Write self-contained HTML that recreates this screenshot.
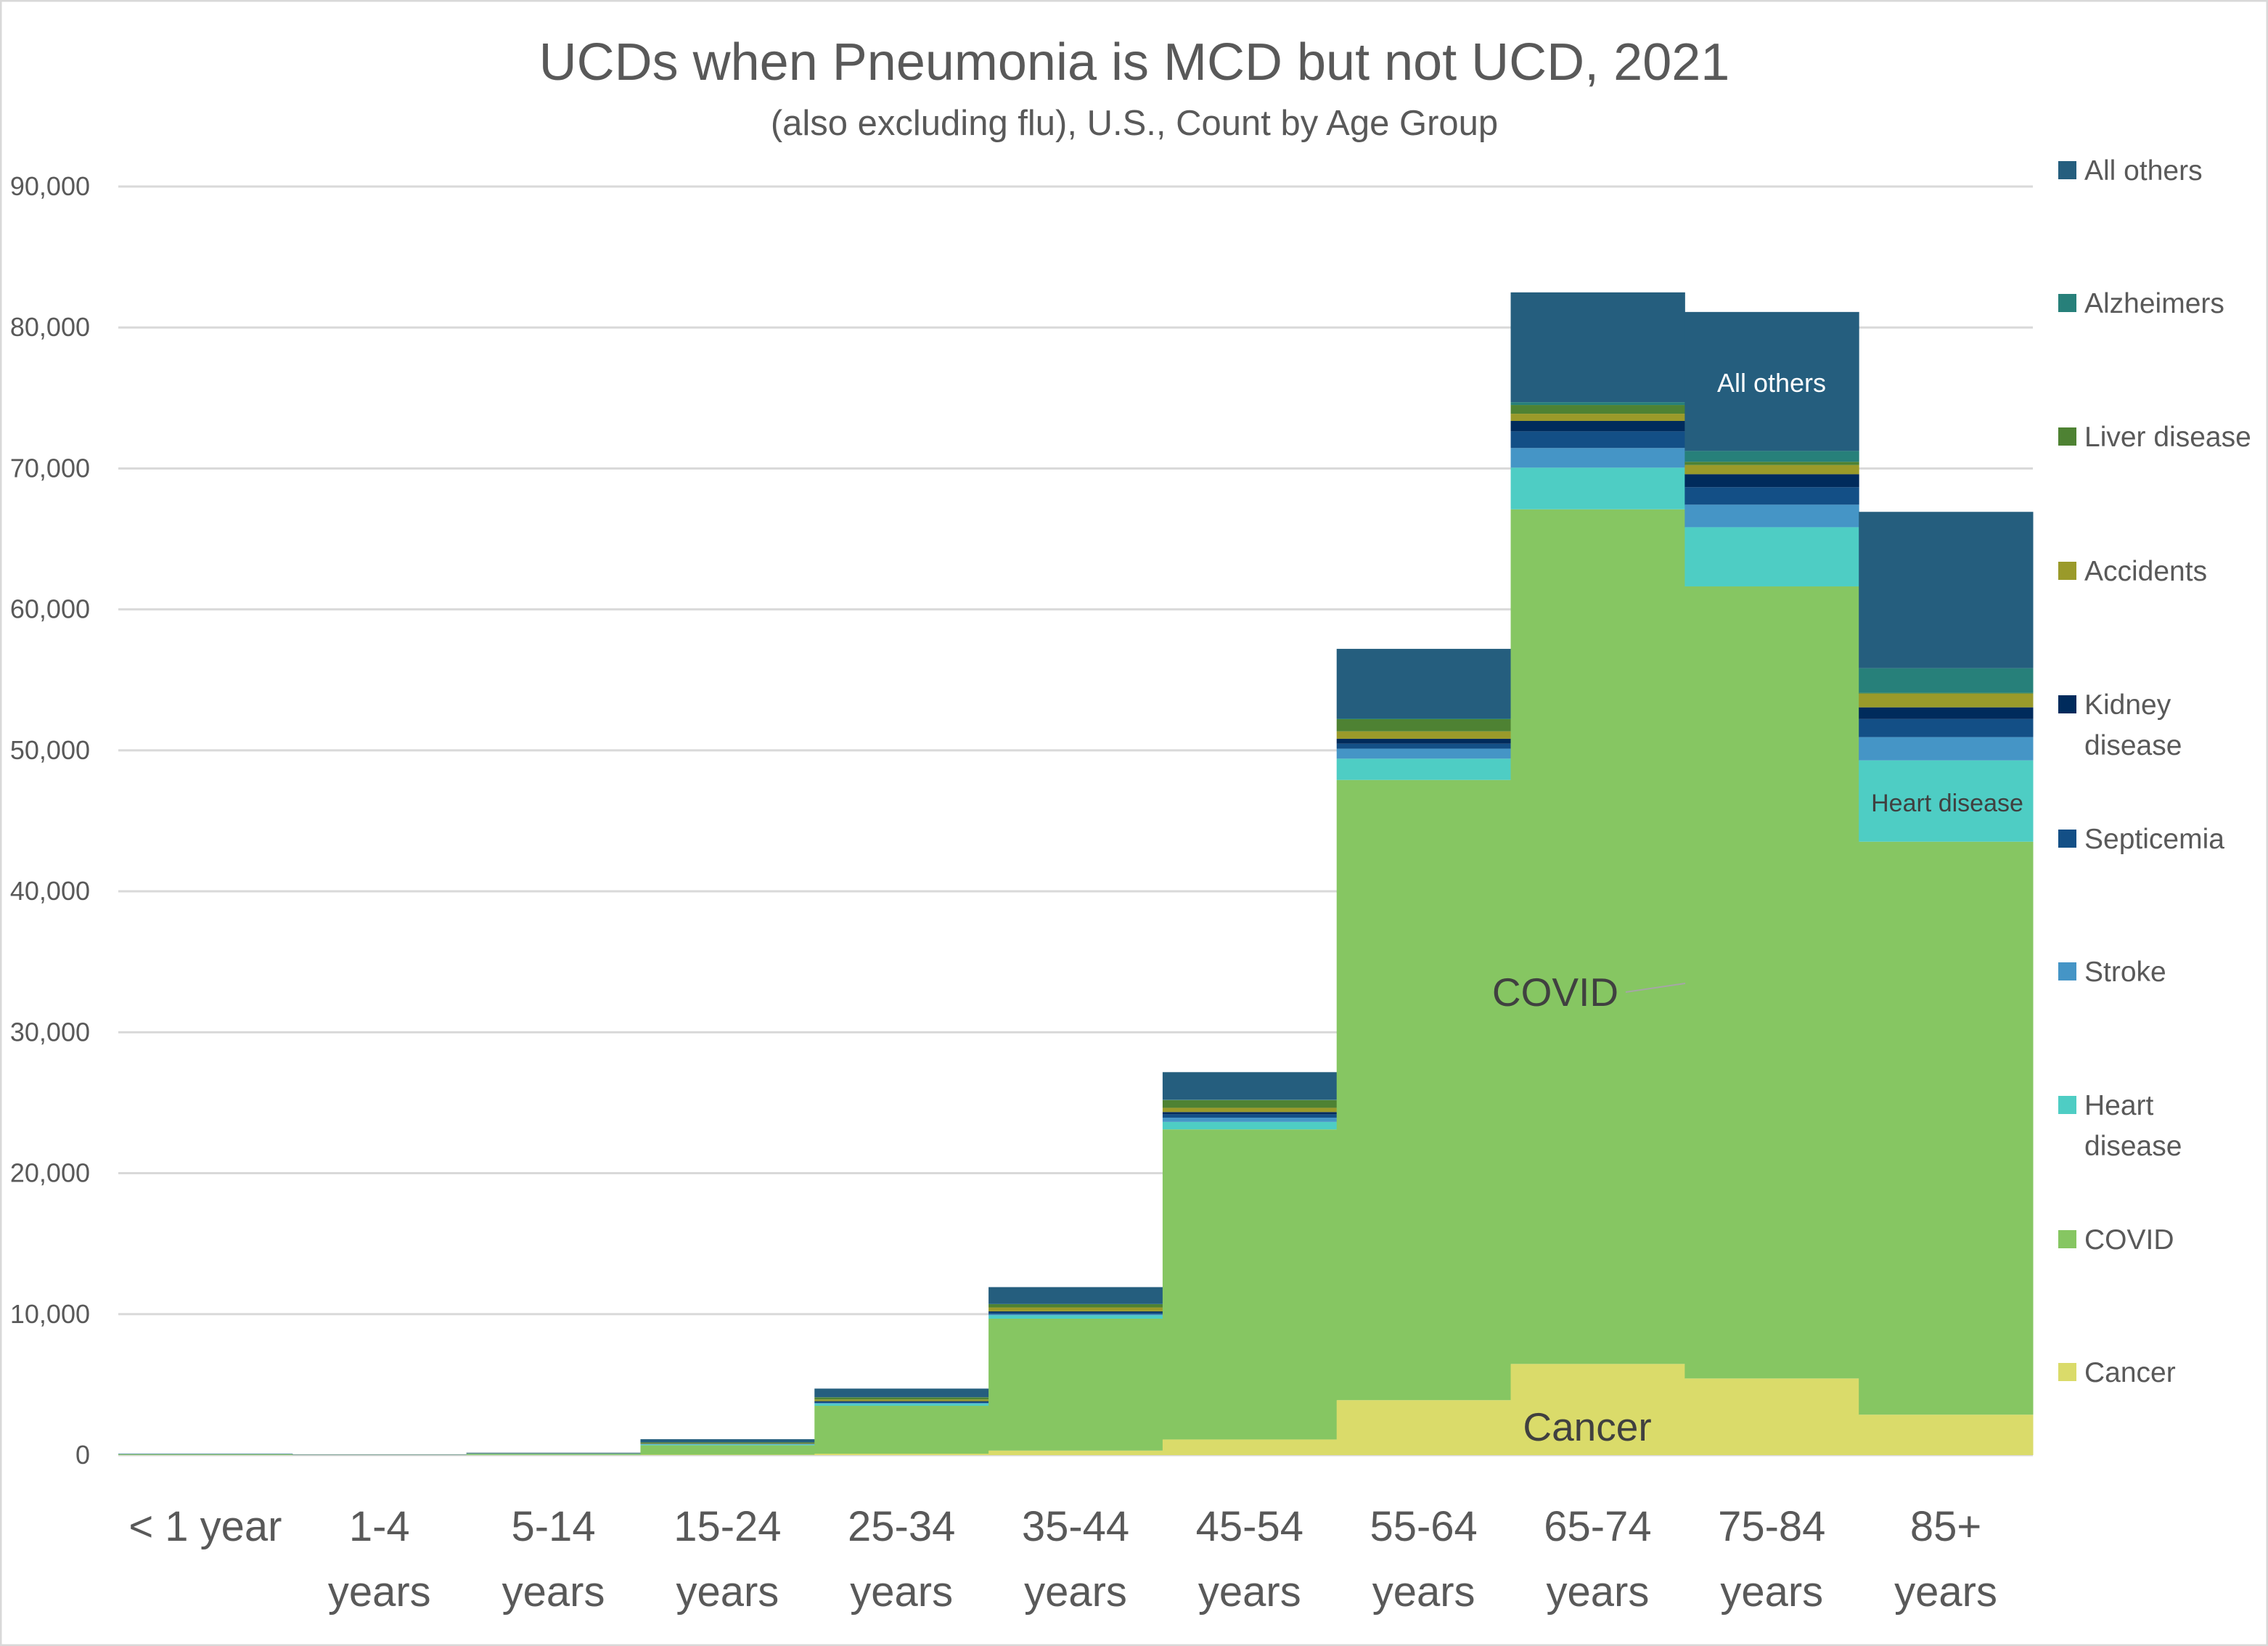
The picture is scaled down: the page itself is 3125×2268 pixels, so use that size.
<!DOCTYPE html>
<html><head><meta charset="utf-8"><style>
html,body{margin:0;padding:0;background:#fff}
svg{display:block}
text{font-family:"Liberation Sans",sans-serif}
</style></head><body>
<svg id="chart" width="3125" height="2268" viewBox="0 0 3125 2268">
<rect x="1" y="1" width="3123" height="2266" fill="#fff" stroke="#d9d9d9" stroke-width="3"/>
<text x="1563" y="110" text-anchor="middle" font-size="72" fill="#595959">UCDs when Pneumonia is MCD but not UCD, 2021</text>
<text x="1563" y="186" text-anchor="middle" font-size="49" fill="#595959">(also excluding flu), U.S., Count by Age Group</text>
<g id="grid"></g><g id="bars"></g><g id="xlabels"></g><g id="legend"></g>
<text x="2441" y="540" text-anchor="middle" font-size="36" fill="#fff">All others</text>
<text x="2683" y="1118" text-anchor="middle" font-size="34" fill="#404040">Heart disease</text>
<line x1="2240" y1="1367" x2="2322" y2="1355" stroke="#a6a6a6" stroke-width="2"/>
<text x="2143" y="1386" text-anchor="middle" font-size="55" fill="#404040">COVID</text>
<text x="2187" y="1985" text-anchor="middle" font-size="55" fill="#404040">Cancer</text>
</svg>
<script>
const categories=[["< 1 year"],["1-4","years"],["5-14","years"],["15-24","years"],["25-34","years"],["35-44","years"],["45-54","years"],["55-64","years"],["65-74","years"],["75-84","years"],["85+","years"]];
const seriesNames=["Cancer","COVID","Heart disease","Stroke","Septicemia","Kidney disease","Accidents","Liver disease","Alzheimers","All others"];
const cancer=[10,3,10,30,100,320,1110,3900,6470,5440,2870];
const covid=[50,12,70,670,3400,9360,22000,44000,60630,56190,40650];
const heart=[10,3,15,60,150,240,530,1510,2960,4200,5770];
const stroke=[5,2,5,20,50,80,300,710,1390,1600,1650];
const septicemia=[5,2,10,20,80,120,240,350,1180,1240,1280];
const kidney=[5,1,5,10,50,80,160,350,740,920,830];
const accidents=[3,2,10,40,120,275,300,530,510,650,970];
const liver=[2,1,5,50,150,235,550,860,620,230,60];
const alzheimers=[1,1,2,5,10,10,20,50,200,770,1750];
const allOthers=[19,13,38,225,610,1200,1960,4940,7790,9860,11090];
const yTicks=[0,10000,20000,30000,40000,50000,60000,70000,80000,90000];
const yTickLabels=["0","10,000","20,000","30,000","40,000","50,000","60,000","70,000","80,000","90,000"];
const series=[cancer,covid,heart,stroke,septicemia,kidney,accidents,liver,alzheimers,allOthers];
const colors=["#DADB6A","#86C662","#4ECDC4","#4595C6","#134F86","#002B5C","#9A9A2A","#4E8233","#27807A","#255E7E"];
const legendLabels=[["All others"],["Alzheimers"],["Liver disease"],["Accidents"],["Kidney","disease"],["Septicemia"],["Stroke"],["Heart","disease"],["COVID"],["Cancer"]];
const NS="http://www.w3.org/2000/svg";
const X0=163,X1=2801,Y0=2005,Y90=257,YMAX=90000;
const y=v=>Y0-(v/YMAX)*(Y0-Y90);
const bw=(X1-X0)/categories.length;
const x=i=>X0+i*bw;
function mk(tag,attrs,parent){const e=document.createElementNS(NS,tag);for(const k in attrs)e.setAttribute(k,attrs[k]);parent.appendChild(e);return e;}
const grid=document.getElementById('grid');
yTicks.forEach((t,i)=>{
  const l=mk('line',{x1:X0,x2:X1,y1:y(t),y2:y(t),stroke:'#d9d9d9','stroke-width':3},grid);
  
  
  const tx=mk('text',{x:124,y:y(t)+12,'text-anchor':'end','font-size':36,fill:'#595959'},grid);
  tx.textContent=yTickLabels[i];
  
  
});
const bars=document.getElementById('bars');
categories.forEach((c,i)=>{
  let cum=0;
  series.forEach((s,k)=>{
    const v=s[i];
    const r=mk('rect',{x:x(i),width:bw+0.5,y:y(cum+v),height:Math.max(0,y(cum)-y(cum+v)),fill:colors[k]},bars);
    
    
    cum+=v;
  });
});
const xl=document.getElementById('xlabels');
categories.forEach((c,i)=>{
  c.forEach((line,j)=>{
    const t=mk('text',{x:x(i)+bw/2,y:2123+j*90,'text-anchor':'middle','font-size':58,fill:'#595959'},xl);
    t.textContent=line;
    
    
  });
});
const lg=document.getElementById('legend');
const legY=[235,418,602,787,971,1156,1339,1523,1708,1891];
legendLabels.forEach((lab,i)=>{
  const ci=series.length-1-i;
  const yy=legY[i];
  const sq=mk('rect',{x:2836,y:yy-13,width:25,height:25,fill:colors[ci]},lg);
  
  
  lab.forEach((line,j)=>{
    const t=mk('text',{x:2872,y:yy+13+j*56,'font-size':39,fill:'#595959'},lg);
    t.textContent=line;
    
    
  });
});
</script>
</body></html>
